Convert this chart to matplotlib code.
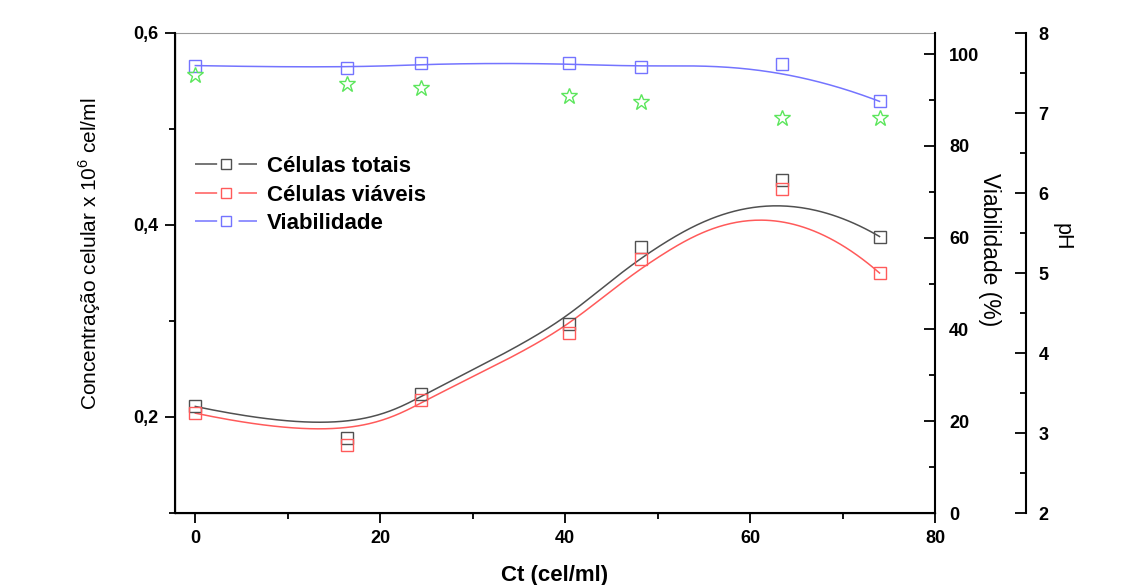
import numpy as np
import matplotlib.pyplot as plt
from matplotlib.lines import Line2D
from matplotlib.ticker import MultipleLocator, FuncFormatter

plt.rcParams['font.family'] = ['Liberation Sans', 'DejaVu Sans']
plt.rcParams['mathtext.fontset'] = 'custom'
plt.rcParams['mathtext.rm'] = 'Liberation Sans'

# dados
ct = [0, 16.4, 24.4, 40.4, 48.2, 63.5, 74.0]
totais = [0.211, 0.178, 0.224, 0.297, 0.377, 0.447, 0.388]
viaveis = [0.204, 0.171, 0.218, 0.288, 0.365, 0.438, 0.350]
viabilidade = [97.5, 96.9, 98.0, 98.0, 97.1, 97.8, 89.7]
ph = [7.48, 7.36, 7.31, 7.21, 7.14, 6.94, 6.94]

c_tot = '#505050'
c_via = '#ff5a5a'
c_viab = '#7474ff'
c_ph = '#5ce65c'

W, H = 1124, 585


def bspline(xs, ys, k=3, n=400):
    # B-spline com os pontos como pontos de controle (passa no primeiro e no ultimo)
    P = np.column_stack([xs, ys])
    m = len(P)
    knots = np.concatenate([np.zeros(k), np.linspace(0, 1, m - k + 1), np.ones(k)])
    t = np.linspace(0, 1, n)
    t[-1] -= 1e-9
    N = np.zeros((n, len(knots) - 1))
    for i in range(len(knots) - 1):
        N[:, i] = (t >= knots[i]) & (t < knots[i + 1])
    for d in range(1, k + 1):
        Nn = np.zeros((n, len(knots) - 1 - d))
        for i in range(len(knots) - 1 - d):
            a = knots[i + d] - knots[i]
            b = knots[i + d + 1] - knots[i + 1]
            left = (t - knots[i]) / a * N[:, i] if a > 0 else 0
            right = (knots[i + d + 1] - t) / b * N[:, i + 1] if b > 0 else 0
            Nn[:, i] = left + right
        N = Nn
    C = N @ P
    return C[:, 0], C[:, 1]


comma = FuncFormatter(lambda v, p: ('%.1f' % v).replace('.', ','))

fig = plt.figure(figsize=(W / 100, H / 100), dpi=100)
ax = fig.add_axes([175 / W, 72 / H, 760 / W, 480 / H])
ax2 = ax.twinx()
ax3 = ax.twinx()

# celulas
for y, c in [(totais, c_tot), (viaveis, c_via)]:
    bx, by = bspline(ct, y)
    ax.plot(bx, by, color=c, lw=1.1, zorder=2)
    ax.plot(ct, y, ls='none', marker='s', ms=8, mfc='none', mec=c, mew=1.0, zorder=3)

ax.set_xlim(-2.2, 80)
ax.set_ylim(0.1, 0.6)
ax.xaxis.set_major_locator(MultipleLocator(20))
ax.xaxis.set_minor_locator(MultipleLocator(10))
ax.yaxis.set_major_locator(MultipleLocator(0.2))
ax.yaxis.set_minor_locator(MultipleLocator(0.1))
ax.yaxis.set_major_formatter(comma)
ax.tick_params(which='major', direction='out', length=7, width=1.3, labelsize=13, pad=5)
ax.tick_params(which='minor', direction='out', length=4, width=1.3)
for lab in ax.get_xticklabels() + ax.get_yticklabels():
    lab.set_fontweight('bold')
ax.spines['right'].set_visible(False)
ax.spines['top'].set_color('#999999')
ax.spines['top'].set_linewidth(0.8)
ax.spines['left'].set_linewidth(1.5)
ax.spines['bottom'].set_linewidth(1.5)

# viabilidade
bx, by = bspline(ct, viabilidade)
ax2.plot(bx, by, color=c_viab, lw=1.1, zorder=2)
ax2.plot(ct, viabilidade, ls='none', marker='s', ms=8, mfc='none', mec=c_viab, mew=1.0)
ax2.set_ylim(0, 104.6)
ax2.yaxis.set_major_locator(MultipleLocator(20))
ax2.yaxis.set_minor_locator(MultipleLocator(10))
ax2.tick_params(which='major', direction='in', length=8, width=1.3, labelsize=13, pad=10)
ax2.tick_params(which='minor', direction='in', length=4, width=1.3)
for lab in ax2.get_yticklabels():
    lab.set_fontweight('bold')
ax2.spines['right'].set_linewidth(1.5)
ax2.spines['top'].set_visible(False)

# pH
ax3.spines['right'].set_position(('axes', 1.1197))
ax3.spines['right'].set_linewidth(1.5)
ax3.spines['top'].set_visible(False)
ax3.plot(ct, ph, ls='none', marker='*', ms=12, mfc='none', mec=c_ph, mew=1.0)
ax3.set_ylim(2, 8)
ax3.yaxis.set_major_locator(MultipleLocator(1))
ax3.yaxis.set_minor_locator(MultipleLocator(0.5))
ax3.tick_params(which='major', direction='in', length=8, width=1.3, labelsize=13, pad=9)
ax3.tick_params(which='minor', direction='in', length=4, width=1.3)
for lab in ax3.get_yticklabels():
    lab.set_fontweight('bold')

# titulos dos eixos
fig.text(555 / W, 1 - 575 / H, 'Ct (cel/ml)', fontsize=16, fontweight='bold',
         ha='center', va='center')
fig.text(90 / W, 1 - 254 / H, 'Concentração celular x 10$^6$ cel/ml', fontsize=15,
         rotation=90, ha='center', va='center')
fig.text(990 / W, 1 - 250 / H, 'Viabilidade (%)', fontsize=16.5,
         rotation=-90, ha='center', va='center')
fig.text(1062 / W, 1 - 237 / H, 'pH', fontsize=15.5,
         rotation=-90, ha='center', va='center')

handles = [
    Line2D([], [], color=c_tot, lw=1.1, ls=(0, (14.5, 14)), marker='s', ms=7, mfc='none', mec=c_tot),
    Line2D([], [], color=c_via, lw=1.1, ls=(0, (14.5, 14)), marker='s', ms=7, mfc='none', mec=c_via),
    Line2D([], [], color=c_viab, lw=1.1, ls=(0, (14.5, 14)), marker='s', ms=7, mfc='none', mec=c_viab),
]
leg = ax3.legend(handles, ['Células totais', 'Células viáveis', 'Viabilidade'],
                 loc='upper left', bbox_to_anchor=(0.0, 0.785), frameon=False,
                 handlelength=2.8, handletextpad=0.45, labelspacing=0.33,
                 prop={'size': 16, 'weight': 'bold'})

fig.savefig('out.png', dpi=100)
